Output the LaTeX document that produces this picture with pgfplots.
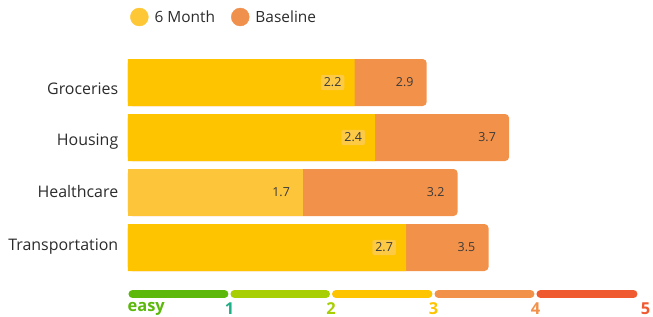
\documentclass[border=0pt]{standalone}
\usepackage{pgfplots}
\pgfplotsset{compat=1.18}
\usepackage{fontspec}
\setmainfont{Open Sans}
\definecolor{sixm}{HTML}{FFC400}
\definecolor{sixmlight}{HTML}{FDC53A}
\definecolor{sixmbox}{HTML}{FCCA45}
\definecolor{base}{HTML}{F29149}
\definecolor{legsix}{HTML}{FDC736}
\definecolor{legbase}{HTML}{F0904D}
\definecolor{sgreen}{HTML}{5CB80A}
\definecolor{slgreen}{HTML}{A8CE04}
\definecolor{sred}{HTML}{EF5A31}
\definecolor{steal}{HTML}{1EAF86}
\definecolor{txt}{HTML}{2B2B2B}
\definecolor{vtxt}{HTML}{3A3A3A}
\begin{document}
\begin{tikzpicture}
\begin{axis}[name=ax, at={(0,0)}, anchor=south west,
  scale only axis, width=515bp, height=220bp,
  xmin=0, xmax=5, ymin=-0.5, ymax=3.5, y dir=reverse,
  axis line style={draw=none}, tick style={draw=none},
  xtick=\empty,
  ytick={0,1,2,3},
  yticklabels={\raisebox{-8.5bp}{Groceries},\raisebox{-4.5bp}{Housing},\raisebox{-1.5bp}{Healthcare},\raisebox{0.5bp}{Transportation}},
  yticklabel style={font=\fontsize{16}{18}\selectfont, color=txt, xshift=-2bp, text height=0.72em, text depth=0pt},
  xbar, bar width=47bp, bar shift=0pt,
  clip=false,
  /pgf/number format/.cd, fixed, fixed zerofill, precision=1, assume math mode=true,
  /pgfplots/.cd,
  legend columns=2,
  legend style={draw=none, fill=none, at={(0,1)}, anchor=west, yshift=38bp, xshift=-1bp,
    font=\fontsize{15.5}{18}\selectfont, text=txt,
    /tikz/every even column/.append style={column sep=14bp}},
]
% Baseline bars
\addplot[fill=base, draw=none, rounded corners=4bp, forget plot,
  nodes near coords,
  nodes near coords style={anchor=east, xshift=-10bp, font=\fontsize{12.5}{14}\selectfont, text=vtxt, inner sep=3bp}]
  coordinates {(2.9,0) (3.7,1) (3.2,2) (3.5,3)};
% 6 Month bars
\addplot[fill=sixm, draw=none, forget plot,
  nodes near coords,
  nodes near coords style={anchor=east, xshift=-10bp, font=\fontsize{12.5}{14}\selectfont, text=vtxt, fill=sixmbox, rounded corners=2bp, inner sep=3bp}]
  coordinates {(2.2,0) (2.4,1) (2.7,3)};
\addplot[fill=sixmlight, draw=none, forget plot,
  nodes near coords,
  nodes near coords style={anchor=east, xshift=-10bp, font=\fontsize{12.5}{14}\selectfont, text=vtxt, inner sep=3bp}]
  coordinates {(1.7,2)};
\addlegendimage{legend image code/.code={\fill[legsix] (0bp,0bp) circle (9bp); \path (13bp,0bp);}}
\addlegendentry{6 Month}
\addlegendimage{legend image code/.code={\fill[legbase] (0bp,0bp) circle (9bp); \path (13bp,0bp);}}
\addlegendentry{Baseline}
% difficulty scale
\draw[line width=8bp, line cap=round, sgreen] ([xshift=5bp]axis cs:-0.005,3.845) -- ([xshift=-5bp]axis cs:0.985,3.845);
\draw[line width=8bp, line cap=round, slgreen] ([xshift=5bp]axis cs:0.985,3.845) -- ([xshift=-5bp]axis cs:1.971,3.845);
\draw[line width=8bp, line cap=round, sixm] ([xshift=5bp]axis cs:1.971,3.845) -- ([xshift=-5bp]axis cs:2.966,3.845);
\draw[line width=8bp, line cap=round, base] ([xshift=5bp]axis cs:2.966,3.845) -- ([xshift=-5bp]axis cs:3.956,3.845);
\draw[line width=8bp, line cap=round, sred] ([xshift=5bp]axis cs:3.956,3.845) -- ([xshift=-5bp]axis cs:4.956,3.845);
\node[anchor=west, inner sep=0pt, text=sgreen, font=\bfseries\fontsize{16.5}{18}\selectfont] at (axis cs:-0.005,4.11) {easy};
\node[inner sep=0pt, text=steal, font=\bfseries\fontsize{16.5}{18}\selectfont] at (axis cs:0.985,4.11) {1};
\node[inner sep=0pt, text=slgreen, font=\bfseries\fontsize{16.5}{18}\selectfont] at (axis cs:1.971,4.11) {2};
\node[inner sep=0pt, text=sixm, font=\bfseries\fontsize{16.5}{18}\selectfont] at (axis cs:2.966,4.11) {3};
\node[inner sep=0pt, text=base, font=\bfseries\fontsize{16.5}{18}\selectfont] at (axis cs:3.956,4.11) {4};
\node[inner sep=0pt, text=sred, font=\bfseries\fontsize{16.5}{18}\selectfont] at ([xshift=7bp]axis cs:4.956,4.11) {5};
\end{axis}
\path[shift={(ax.south west)}] (-128bp,-42bp) rectangle (525bp,275bp);
\end{tikzpicture}
\end{document}
